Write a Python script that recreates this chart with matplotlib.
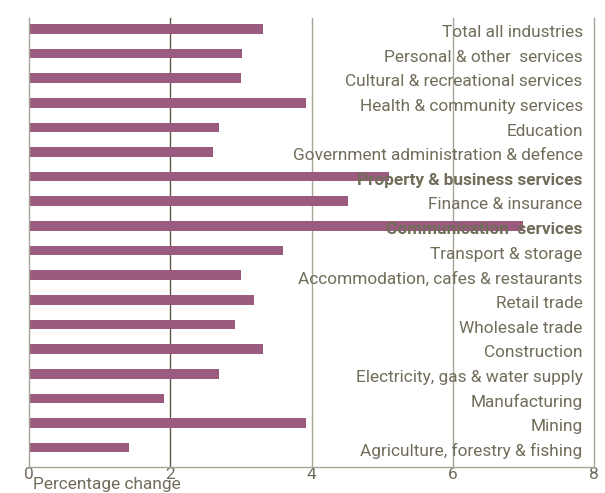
import matplotlib
matplotlib.use("Agg")
import matplotlib.pyplot as plt

categories = [
    "Agriculture, forestry & fishing",
    "Mining",
    "Manufacturing",
    "Electricity, gas & water supply",
    "Construction",
    "Wholesale trade",
    "Retail trade",
    "Accommodation, cafes & restaurants",
    "Transport & storage",
    "Communication  services",
    "Finance & insurance",
    "Property & business services",
    "Government administration & defence",
    "Education",
    "Health & community services",
    "Cultural & recreational services",
    "Personal & other  services",
    "Total all industries",
]
values = [1.41, 3.92, 1.91, 2.69, 3.32, 2.92, 3.19, 3.0, 3.6, 7.0,
          4.52, 5.1, 2.6, 2.69, 3.92, 3.0, 3.01, 3.32]
bold_labels = ["Property & business services", "Communication  services"]
xticks = [0, 2, 4, 6, 8]
xlabel = "Percentage change"

bar_color = "#9a5b7e"
text_color = "#716d5a"
fs = 12.4

fig = plt.figure(figsize=(6.05, 4.93), dpi=100)
ax = fig.add_axes([29 / 605, 1 - 467.3 / 493, (594 - 29) / 605, (467.3 - 18.3) / 493])

y = list(range(len(categories)))
ax.barh(y, values, height=0.39, color=bar_color, zorder=2)

ax.set_xlim(0, 8)
ax.set_ylim(-0.8, len(categories) - 1 + 0.43)

ax.axvline(2, color="#5e5844", lw=1.0, zorder=1)
for xv in (4, 6):
    ax.axvline(xv, color="#a6a598", lw=1.0, zorder=1)

ax.spines["top"].set_visible(False)
for s in ("left", "right", "bottom"):
    ax.spines[s].set_color("#a6a598")
    ax.spines[s].set_linewidth(1.0)

ax.set_yticks([])
ax.set_xticks(xticks)
ax.set_xticklabels([str(t) for t in xticks], family="Roboto")
ax.tick_params(axis="x", length=0, pad=0, labelsize=fs, labelcolor=text_color)

for yi, cat in zip(y, categories):
    ax.text(7.84, yi - 0.15, cat, ha="right", va="center", fontsize=fs,
            color=text_color, family="Roboto",
            fontweight="bold" if cat in bold_labels else "normal", zorder=3)

fig.text(33 / 605, 1 - 489 / 493, xlabel, ha="left", va="baseline",
         fontsize=fs, color=text_color, family="Roboto")

fig.savefig("out.png", dpi=100)
